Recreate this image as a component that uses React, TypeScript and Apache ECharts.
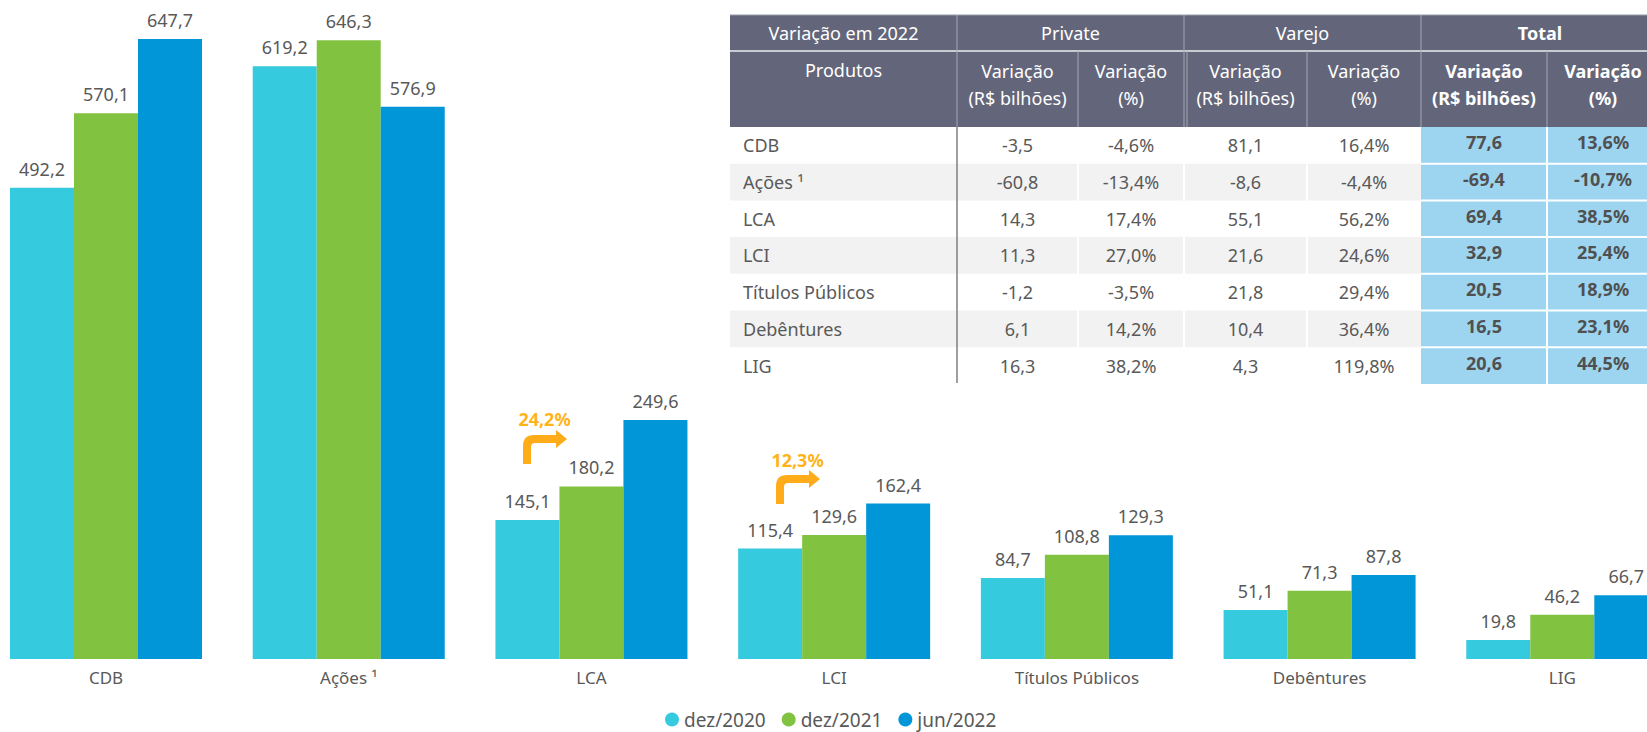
import React, { useEffect, useRef } from "react";
import * as echarts from "echarts";

// ---- Chart data ----
const categories = ["CDB", "Ações ¹", "LCA", "LCI", "Títulos Públicos", "Debêntures", "LIG"];
const seriesNames = ["dez/2020", "dez/2021", "jun/2022"];
const dez2020 = [492.2, 619.2, 145.1, 115.4, 84.7, 51.1, 19.8];
const dez2021 = [570.1, 646.3, 180.2, 129.6, 108.8, 71.3, 46.2];
const jun2022 = [647.7, 576.9, 249.6, 162.4, 129.3, 87.8, 66.7];
const seriesColors = ["#36CADF", "#82C241", "#0096D8"];

// ---- Table data ----
const tableTitle = "Variação em 2022";
const groupHeaders = ["Private", "Varejo", "Total"];
const productsHeader = "Produtos";
const subHeaders = ["Variação\n(R$ bilhões)", "Variação\n(%)"];
const tableProducts = ["CDB", "Ações ¹", "LCA", "LCI", "Títulos Públicos", "Debêntures", "LIG"];
const privateRs = [-3.5, -60.8, 14.3, 11.3, -1.2, 6.1, 16.3];
const privatePct = [-4.6, -13.4, 17.4, 27.0, -3.5, 14.2, 38.2];
const varejoRs = [81.1, -8.6, 55.1, 21.6, 21.8, 10.4, 4.3];
const varejoPct = [16.4, -4.4, 56.2, 24.6, 29.4, 36.4, 119.8];
const totalRs = [77.6, -69.4, 69.4, 32.9, 20.5, 16.5, 20.6];
const totalPct = [13.6, -10.7, 38.5, 25.4, 18.9, 23.1, 44.5];

// ---- Annotations ----
const growthLabels = ["24,2%", "12,3%"];

const FONT = "Noto Sans";
const fmt = (v: number) => v.toFixed(1).replace(".", ",");
const fmtPct = (v: number) => fmt(v) + "%";

const ARROW_D =
  "M0,29 L0,11 Q0,0 11,0 L33,0 L33,-5 L44,4 L33,13 L33,8 L12,8 Q8,8 8,12 L8,29 Z";
let arrowRegistered = false;

function buildTable(): any[] {
  const els: any[] = [];
  const colX = [730, 957, 1078, 1184, 1307, 1421, 1547, 1659];
  const h1Top = 15;
  const h1Bot = 51;
  const h2Bot = 127;
  const rowH = 36.7;
  const nRows = tableProducts.length;
  const tableBot = h2Bot + rowH * nRows;
  const headerBg = "#63667A";
  const headerLine = "#A4A6B2";
  const txt = "#595959";

  els.push({ type: "rect", shape: { x: colX[0], y: h1Top, width: colX[7] - colX[0], height: h2Bot - h1Top }, style: { fill: headerBg } });
  els.push({ type: "line", shape: { x1: colX[0], y1: h1Top, x2: colX[7], y2: h1Top }, style: { stroke: "#9A9CA8", lineWidth: 1 } });
  els.push({ type: "line", shape: { x1: colX[0], y1: h1Bot, x2: colX[7], y2: h1Bot }, style: { stroke: "#C9CAD2", lineWidth: 2 } });
  [colX[1], colX[3], colX[5]].forEach((x) => {
    els.push({ type: "line", shape: { x1: x, y1: h1Top, x2: x, y2: h1Bot }, style: { stroke: headerLine, lineWidth: 1 } });
  });
  [colX[1], colX[2], colX[3], colX[4], colX[5], colX[6]].forEach((x) => {
    els.push({ type: "line", shape: { x1: x, y1: h1Bot, x2: x, y2: h2Bot }, style: { stroke: headerLine, lineWidth: 1 } });
  });
  els.push({ type: "line", shape: { x1: colX[3] + 3, y1: h1Bot, x2: colX[3] + 3, y2: h2Bot }, style: { stroke: headerLine, lineWidth: 1 } });

  const h1Mid = (h1Top + h1Bot) / 2;
  els.push({ type: "text", x: (colX[0] + colX[1]) / 2, y: h1Mid, style: { text: tableTitle, fill: "#FFFFFF", fontSize: 18, fontFamily: FONT, align: "center", verticalAlign: "middle" } });
  groupHeaders.forEach((g, i) => {
    const l = colX[1 + i * 2];
    const r = colX[3 + i * 2];
    els.push({ type: "text", x: (l + r) / 2, y: h1Mid, style: { text: g, fill: "#FFFFFF", fontSize: 18, fontFamily: FONT, fontWeight: i === 2 ? "bold" : "normal", align: "center", verticalAlign: "middle" } });
  });
  els.push({ type: "text", x: (colX[0] + colX[1]) / 2, y: 70, style: { text: productsHeader, fill: "#FFFFFF", fontSize: 18, fontFamily: FONT, align: "center", verticalAlign: "middle" } });
  for (let c = 1; c <= 6; c++) {
    els.push({
      type: "text",
      x: (colX[c] + colX[c + 1]) / 2,
      y: 84,
      style: { text: subHeaders[(c - 1) % 2], fill: "#FFFFFF", fontSize: 18, lineHeight: 27, fontFamily: FONT, fontWeight: c >= 5 ? "bold" : "normal", align: "center", verticalAlign: "middle" },
    });
  }

  for (let r = 0; r < nRows; r++) {
    if (r % 2 === 1) {
      els.push({ type: "rect", shape: { x: colX[0], y: h2Bot + r * rowH, width: colX[5] - colX[0], height: rowH }, style: { fill: "#F2F2F2" } });
    }
  }
  els.push({ type: "rect", shape: { x: colX[5], y: h2Bot, width: colX[7] - colX[5], height: tableBot - h2Bot }, style: { fill: "#9DD5F0" } });
  [colX[2], colX[3], colX[4], colX[6]].forEach((x) => {
    els.push({ type: "line", shape: { x1: x, y1: h2Bot, x2: x, y2: tableBot }, style: { stroke: "#FFFFFF", lineWidth: 2 } });
  });
  for (let r = 1; r < nRows; r++) {
    const y = h2Bot + r * rowH;
    els.push({ type: "line", shape: { x1: colX[5], y1: y, x2: colX[7], y2: y }, style: { stroke: "#FFFFFF", lineWidth: 2 } });
  }
  els.push({ type: "line", shape: { x1: colX[1], y1: h2Bot, x2: colX[1], y2: tableBot - 1 }, style: { stroke: "#7F7F7F", lineWidth: 1.5 } });

  const cols = [privateRs.map(fmt), privatePct.map(fmtPct), varejoRs.map(fmt), varejoPct.map(fmtPct), totalRs.map(fmt), totalPct.map(fmtPct)];
  for (let r = 0; r < nRows; r++) {
    const cy = h2Bot + r * rowH + rowH / 2;
    els.push({ type: "text", x: colX[0] + 13, y: cy, style: { text: tableProducts[r], fill: txt, fontSize: 18, fontFamily: FONT, align: "left", verticalAlign: "middle" } });
    cols.forEach((col, ci) => {
      const c = ci + 1;
      const bold = c >= 5;
      els.push({
        type: "text",
        x: (colX[c] + colX[c + 1]) / 2,
        y: bold ? cy - 3 : cy,
        style: { text: col[r], fill: bold ? "#505050" : txt, fontSize: 18, fontFamily: FONT, fontWeight: bold ? "bold" : "normal", align: "center", verticalAlign: "middle" },
      });
    });
  }
  return els;
}

function buildAnnotations(): any[] {
  const orange = "#FFAB1A";
  const spots = [
    { tx: 544.5, ty: 419, ax: 523, ay: 435 },
    { tx: 797.5, ty: 460, ax: 776, ay: 475 },
  ];
  const els: any[] = [];
  spots.forEach((s, i) => {
    els.push({ type: "text", x: s.tx, y: s.ty, style: { text: growthLabels[i], fill: "#FFB31A", fontSize: 18, fontWeight: "bold", fontFamily: FONT, align: "center", verticalAlign: "middle" } });
    els.push({ type: "turnArrow", x: s.ax, y: s.ay, style: { fill: orange } });
  });
  return els;
}

export default function App() {
  const ref = useRef<HTMLDivElement>(null);
  useEffect(() => {
    if (!ref.current) return;
    if (!arrowRegistered) {
      echarts.graphic.registerShape("turnArrow", echarts.graphic.extendPath(ARROW_D, {}) as any);
      arrowRegistered = true;
    }
    const chart = echarts.init(ref.current, undefined, { renderer: "svg" });
    const values = [dez2020, dez2021, jun2022];
    chart.setOption({
      animation: false,
      backgroundColor: "#FFFFFF",
      textStyle: { fontFamily: FONT },
      grid: { left: -15.35, width: 1699, top: 8, bottom: 73, containLabel: false, outerBoundsMode: "none" },
      legend: {
        data: seriesNames,
        left: 660,
        top: 705,
        icon: "circle",
        itemWidth: 14,
        itemHeight: 14,
        itemGap: 16,
        textStyle: { fontSize: 19, color: "#595959", fontFamily: FONT },
      },
      xAxis: {
        type: "category",
        data: categories,
        axisLine: { show: false },
        axisTick: { show: false },
        axisLabel: { fontSize: 17, color: "#595959", margin: 10, fontFamily: FONT, interval: 0 },
      },
      yAxis: { type: "value", min: 0, max: 680, show: false, splitLine: { show: false } },
      series: seriesNames.map((name, i) => ({
        name,
        type: "bar",
        data: values[i],
        barWidth: 64,
        barGap: "0%",
        itemStyle: { color: seriesColors[i] },
        label: {
          show: true,
          position: "top",
          distance: 10,
          fontSize: 18,
          color: "#595959",
          fontFamily: FONT,
          formatter: (p: any) => fmt(p.value),
        },
      })),
      graphic: [...buildTable(), ...buildAnnotations()],
    });
    return () => chart.dispose();
  }, []);
  return (
    <div
      ref={ref}
      style={{ position: "absolute", left: 0, top: 0, width: 1647, height: 732 }}
    />
  );
}
